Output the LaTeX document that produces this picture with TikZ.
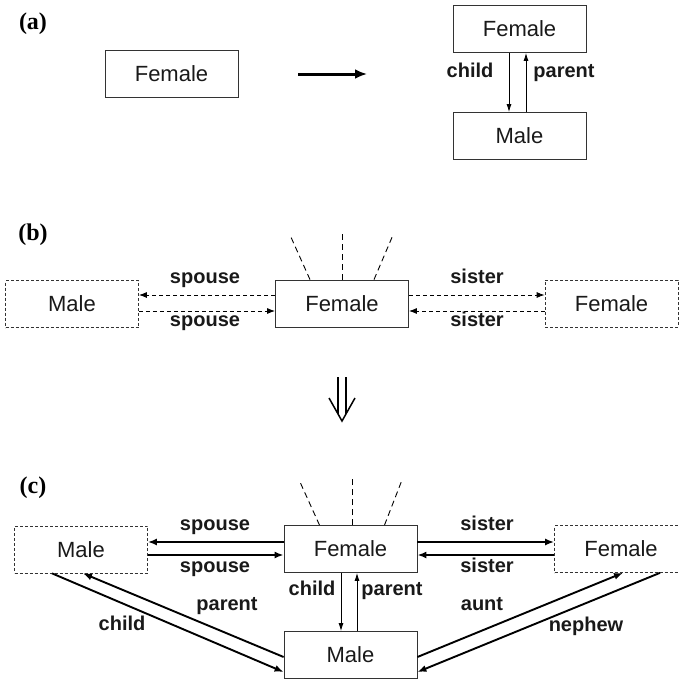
\documentclass[tikz,border=0pt]{standalone}
\usepackage{fontspec}
\setmainfont{Liberation Sans}
\newfontfamily\serifb{Liberation Serif}
\usetikzlibrary{arrows.meta}
\begin{document}
\begin{tikzpicture}[x=1pt,y=-1pt,
  box/.style={draw=black!80,line width=0.8pt,minimum width=133pt,minimum height=47pt,inner sep=0pt,font=\fontsize{22}{26}\selectfont,text=black!90},
  dbox/.style={box,dash pattern=on 3pt off 2pt,line width=0.7pt},
  lab/.style={font=\bfseries\fontsize{20}{24}\selectfont,inner sep=0pt,text height=1ex,text depth=0pt,text=black!90},
  panel/.style={font=\serifb\bfseries\fontsize{24}{28}\selectfont,inner sep=0pt},
  thinarr/.style={line width=0.9pt,-{Latex[length=8pt,width=5pt]}},
  thickarr/.style={line width=1.9pt,-{Latex[length=9pt,width=7pt]}},
  bigarr/.style={line width=3pt,-{Latex[length=12pt,width=10pt]}},
  darr/.style={line width=0.9pt,dash pattern=on 4pt off 3pt,-{Latex[length=8pt,width=6pt]}},
  ray/.style={line width=0.9pt,dash pattern=on 6pt off 4pt}]
\useasboundingbox (0,0) rectangle (678,680);

% ---------- (a) ----------
\node[panel] (pa) at (33,24) {(a)};
\node[box] (fa1) at (171.5,73.5) {Female};
\node[box] (fa2) at (519.5,29) {Female};
\node[box] (ma) at (519.5,136) {Male};
\coordinate (aa1) at (298,74);
\coordinate (aa2) at (367,74);
\draw[bigarr] (aa1) -- (aa2);
\draw[thinarr] ([xshift=-10.5pt]fa2.south) -- ([xshift=-10.5pt]ma.north);
\draw[thinarr] ([xshift=6.5pt]ma.north) -- ([xshift=6.5pt]fa2.south);
\node[lab] (lac) at (470,75) {child};
\node[lab] (lap) at (564,75) {parent};

% ---------- (b) ----------
\node[panel] (pb) at (33,235) {(b)};
\node[dbox] (mb) at (72,304) {Male};
\node[box] (fb) at (342,303.5) {Female};
\node[dbox] (frb) at (611.5,303.5) {Female};
\coordinate (yb1) at (0,295);
\coordinate (yb2) at (0,311);
\draw[darr] (fb.west |- yb1) -- (mb.east |- yb1);
\draw[darr] (mb.east |- yb2) -- (fb.west |- yb2);
\draw[darr] (fb.east |- yb1) -- (frb.west |- yb1);
\draw[darr] (frb.west |- yb2) -- (fb.east |- yb2);
\node[lab] at (205,281) {spouse};
\node[lab] at (205,324) {spouse};
\node[lab] at (477,281) {sister};
\node[lab] at (477,324) {sister};
\coordinate (rb1) at (290,235);
\coordinate (rb2) at (342,233);
\coordinate (rb3) at (393,235);
\draw[ray] ([xshift=-32pt]fb.north) -- (rb1);
\draw[ray] (fb.north) -- (rb2);
\draw[ray] ([xshift=32pt]fb.north) -- (rb3);

% ---------- double arrow ----------
\coordinate (d1) at (338,377);
\coordinate (d2) at (338,414);
\coordinate (d3) at (346,377);
\coordinate (d4) at (346,414);
\coordinate (h1) at (329,398);
\coordinate (h2) at (342,421);
\coordinate (h3) at (355,398);
\draw[line width=1.5pt] (d1) -- (d2) (d3) -- (d4);
\draw[line width=1.5pt,line join=miter] (h1) -- (h2) -- (h3);

% ---------- (c) ----------
\node[panel] (pc) at (33,488) {(c)};
\node[dbox] (ml) at (81,549.5) {Male};
\node[box] (fc) at (350.5,549) {Female};
\node[dbox] (fr) at (621,549) {Female};
\node[box] (mc) at (350.5,655) {Male};
\coordinate (yc1) at (0,542);
\coordinate (yc2) at (0,555);
\draw[thickarr] (fc.west |- yc1) -- (ml.east |- yc1);
\draw[thickarr] (ml.east |- yc2) -- (fc.west |- yc2);
\draw[thickarr] (fc.east |- yc1) -- (fr.west |- yc1);
\draw[thickarr] (fr.west |- yc2) -- (fc.east |- yc2);
\node[lab] at (215,528) {spouse};
\node[lab] at (215,570) {spouse};
\node[lab] at (487,528) {sister};
\node[lab] at (487,570) {sister};
\draw[thinarr] ([xshift=-9.5pt]fc.south) -- ([xshift=-9.5pt]mc.north);
\draw[thinarr] ([xshift=6.5pt]mc.north) -- ([xshift=6.5pt]fc.south);
\node[lab] at (312,593) {child};
\node[lab] at (392,593) {parent};
\coordinate (rc1) at (300,482);
\coordinate (rc2) at (352,478);
\coordinate (rc3) at (402,480);
\draw[ray] ([xshift=-31pt]fc.north) -- (rc1);
\draw[ray] ([xshift=1.5pt]fc.north) -- (rc2);
\draw[ray] ([xshift=34pt]fc.north) -- (rc3);
% diagonals
\draw[thickarr] ([xshift=-29pt]ml.south) -- ([yshift=-17pt]mc.west);
\draw[thickarr] ([yshift=-2pt]mc.west) -- ([xshift=2pt]ml.south);
\draw[thickarr] ([yshift=-2pt]mc.east) -- ([xshift=2pt]fr.south);
\draw[thickarr] ([xshift=39pt]fr.south) -- ([yshift=-17pt]mc.east);
\node[lab] at (227,608) {parent};
\node[lab] at (122,628) {child};
\node[lab] at (482,608) {aunt};
\node[lab] at (586,629) {nephew};
\end{tikzpicture}
\end{document}
